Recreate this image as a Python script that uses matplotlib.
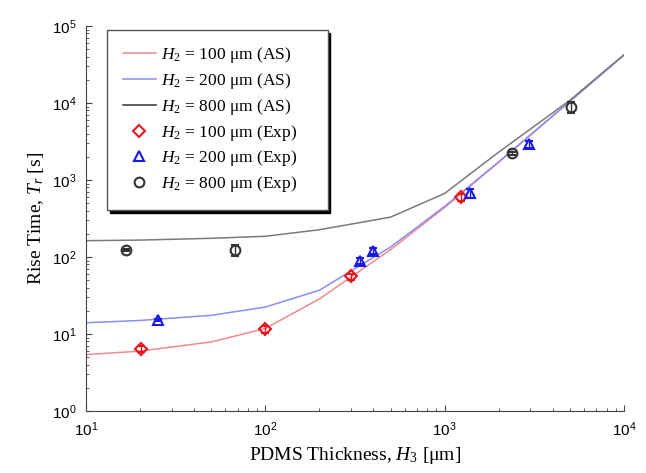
#!/usr/bin/env python3
"""Rise time vs PDMS thickness: analytical solution vs experiment"""

import numpy as np
import matplotlib.pyplot as plt
from matplotlib.lines import Line2D
from matplotlib.ticker import LogLocator, NullFormatter

plt.rcParams['mathtext.fontset'] = 'custom'
plt.rcParams['mathtext.rm'] = 'Liberation Serif'
plt.rcParams['mathtext.it'] = 'Liberation Serif:italic'

# analytical solution (AS)
h3_as = [10, 20, 50, 100, 200, 500, 1000, 2000, 5000, 10000]
tr_as_100 = [5.4, 6.0, 7.9, 11.8, 28.5, 125, 440, 1700, 10500, 42000]
tr_as_200 = [14.0, 15.0, 17.5, 22.4, 37, 135, 455, 1720, 10600, 42000]
tr_as_800 = [163, 166, 175, 186, 226, 330, 670, 2300, 10900, 42500]

# experiments
h3_exp_100 = [20.3, 100, 300, 1234]
tr_exp_100 = [6.4, 11.5, 56, 600]
err_exp_100 = [0.5, 1.2, 5, 60]

h3_exp_200 = [25.2, 337, 398, 1387, 2953]
tr_exp_200 = [15.3, 88, 120, 680, 2940]
err_exp_200 = [0.6, 8, 10, 90, 300]

h3_exp_800 = [16.7, 67.8, 2377, 5071]
tr_exp_800 = [123, 123, 2240, 8870]
err_exp_800 = [4, 20, 100, 1450]

labels = [r'$H_2$ = 100 μm (AS)', r'$H_2$ = 200 μm (AS)', r'$H_2$ = 800 μm (AS)',
          r'$H_2$ = 100 μm (Exp)', r'$H_2$ = 200 μm (Exp)', r'$H_2$ = 800 μm (Exp)']

fig, ax = plt.subplots(figsize=(6.46, 4.73), dpi=100)
fig.subplots_adjust(left=0.133, right=0.966, top=0.945, bottom=0.131)

handles = []
for y, c in [(tr_as_100, '#f28a8a'), (tr_as_200, '#8c8cf2'), (tr_as_800, '#7a7a7a')]:
    ax.plot(h3_as, y, color=c, lw=1.1)
    handles.append(Line2D([], [], color=c, lw=1.1))
handles[2].set_color('#333333')

exp_sets = [(h3_exp_100, tr_exp_100, err_exp_100, 'D', 6, '#e8141c'),
            (h3_exp_200, tr_exp_200, err_exp_200, '^', 7, '#1a1ae6'),
            (h3_exp_800, tr_exp_800, err_exp_800, 'o', 7, '#333333')]
for x, y, e, m, s, c in exp_sets:
    ax.errorbar(x, y, yerr=e, fmt=m, ms=s, mfc='none', mec=c, mew=1.5,
                ecolor=c, capsize=3, elinewidth=1)
    handles.append(Line2D([], [], ls='none', marker=m, ms=s, mfc='none',
                          mec=c, mew=1.5))

ax.set_xscale('log')
ax.set_yscale('log')
ax.set_xlim(10, 1e4)
ax.set_ylim(1, 1e5)
ax.xaxis.set_major_locator(LogLocator(base=10, numticks=10))
ax.yaxis.set_major_locator(LogLocator(base=10, numticks=10))
ax.xaxis.set_minor_locator(LogLocator(base=10, subs=np.arange(2, 10), numticks=20))
ax.yaxis.set_minor_locator(LogLocator(base=10, subs=np.arange(2, 10), numticks=20))
ax.xaxis.set_minor_formatter(NullFormatter())
ax.yaxis.set_minor_formatter(NullFormatter())

for side in ('top', 'right'):
    ax.spines[side].set_visible(False)
for side in ('left', 'bottom'):
    ax.spines[side].set_color('#444444')
ax.tick_params(which='both', direction='in', color='#444444')
ax.tick_params(which='major', length=4, labelsize=11, pad=7)
ax.tick_params(which='minor', length=2)
for lbl in ax.get_xticklabels() + ax.get_yticklabels():
    lbl.set_fontfamily('Liberation Sans')

ax.set_xlabel(r'PDMS Thickness, $H_3$ [μm]', fontsize=14, family='Liberation Serif')
ax.set_ylabel(r'Rise Time, $T_r$ [s]', fontsize=14, family='Liberation Serif')

leg = ax.legend(handles, labels, loc='upper left',
                bbox_to_anchor=(0.039, 0.0, 0.41, 0.99), mode='expand',
                borderaxespad=0, fancybox=False,
                shadow={'color': 'black', 'alpha': 1}, edgecolor='#555555',
                framealpha=1, prop={'family': 'Liberation Serif', 'size': 12.5},
                labelspacing=0.33, handlelength=1.9, handletextpad=0.3,
                borderpad=0.9)
leg.get_frame().set_linewidth(1)

plt.savefig('out.png')
